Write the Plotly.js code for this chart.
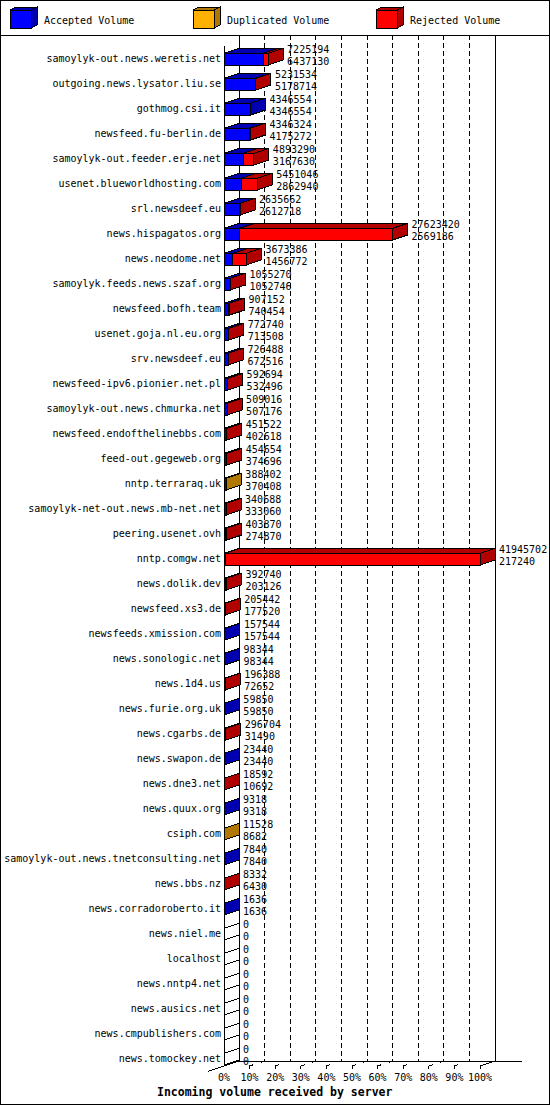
<!DOCTYPE html>
<html><head><meta charset="utf-8">
<script src="https://cdn.plot.ly/plotly-3.0.1.min.js"></script>
<style>
html,body{margin:0;padding:0;background:#fff;}
#chart{width:550px;height:1105px;}
#chart path{shape-rendering:crispEdges;}
</style></head><body><div id="chart"></div>
<script>
// ---------------- data ----------------
const servers = [
  'samoylyk-out.news.weretis.net','outgoing.news.lysator.liu.se','gothmog.csi.it','newsfeed.fu-berlin.de',
  'samoylyk-out.feeder.erje.net','usenet.blueworldhosting.com','srl.newsdeef.eu','news.hispagatos.org',
  'news.neodome.net','samoylyk.feeds.news.szaf.org','newsfeed.bofh.team','usenet.goja.nl.eu.org',
  'srv.newsdeef.eu','newsfeed-ipv6.pionier.net.pl','samoylyk-out.news.chmurka.net','newsfeed.endofthelinebbs.com',
  'feed-out.gegeweb.org','nntp.terraraq.uk','samoylyk-net-out.news.mb-net.net','peering.usenet.ovh',
  'nntp.comgw.net','news.dolik.dev','newsfeed.xs3.de','newsfeeds.xmission.com',
  'news.sonologic.net','news.1d4.us','news.furie.org.uk','news.cgarbs.de',
  'news.swapon.de','news.dne3.net','news.quux.org','csiph.com',
  'samoylyk-out.news.tnetconsulting.net','news.bbs.nz','news.corradoroberto.it','news.niel.me',
  'localhost','news.nntp4.net','news.ausics.net','news.cmpublishers.com','news.tomockey.net'
];
const totalVolume = [
  7225194,5231534,4346554,4346324,4893290,5451046,2635662,27623420,
  3673386,1055270,907152,772740,726488,592694,509016,451522,
  454654,388402,340688,403870,41945702,392740,205442,157544,
  98344,196388,59850,296704,23440,18592,9318,11528,
  7840,8332,1636,0,0,0,0,0,0
];
const acceptedVolume = [
  6437130,5178714,4346554,4175272,3167630,2862940,2612718,2569186,
  1456772,1052746,740454,713508,672516,532496,507176,402618,
  374696,370408,333060,274870,217240,203126,177520,157544,
  98344,72652,59850,31490,23440,10692,9318,8682,
  7840,6430,1636,0,0,0,0,0,0
];
const duplicatedVolume = [
  0,0,0,0,0,0,0,0,
  0,0,0,0,0,0,0,0,
  0,17994,0,0,0,0,0,0,
  0,0,0,0,0,0,0,2846,
  0,0,0,0,0,0,0,0,0
];
const xTickValues = [0,10,20,30,40,50,60,70,80,90,100];
const xTickLabels = ['0%','10%','20%','30%','40%','50%','60%','70%','80%','90%','100%'];
const seriesNames = ['Accepted Volume','Duplicated Volume','Rejected Volume'];
const seriesColors = ['#0000ff','#ffb000','#ff0000'];
const seriesDark   = ['#0000b0','#b07800','#b00000'];
const xAxisTitle = 'Incoming volume received by server';

// ---------------- geometry ----------------
const W = 550, H = 1105;
const PX_PER_PCT = 2.56, X0_PX = 224, ROW0_PX = 59, ROW_PX = 25;
const DX = 15 / PX_PER_PCT;   // depth (x) in axis units
const DY = 5 / ROW_PX;        // depth (y) in axis units
const HT = 0.228, HB = 0.24;  // bar face half heights
const X = px => (px - X0_PX) / PX_PER_PCT;
const Y = py => (py - ROW0_PX) / ROW_PX;
const PX = px => px / W, PY = py => 1 - py / H;
const FONT = 'DejaVu Sans Mono, Liberation Mono, monospace';

const maxTotal = Math.max(...totalVolume);
const pct = v => v / maxTotal * 100;
const rejectedVolume = totalVolume.map((t, i) => t - acceptedVolume[i] - duplicatedVolume[i]);
const segs = [acceptedVolume, duplicatedVolume, rejectedVolume];
const rows = servers.map((_, i) => i);

const traces = [];
// front faces (stacked bars)
segs.forEach((arr, s) => {
  traces.push({
    type: 'bar', orientation: 'h', name: seriesNames[s],
    x: arr.map(pct), y: rows.map(i => i + (HB - HT) / 2), width: HT + HB,
    marker: {color: seriesColors[s], line: {color: '#000', width: 1}},
    showlegend: false, hoverinfo: 'skip'
  });
});
// top faces
segs.forEach((arr, s) => {
  const xs = [], ys = [];
  rows.forEach(i => {
    if (arr[i] <= 0) return;
    let cum = 0; for (let k = 0; k < s; k++) cum += segs[k][i];
    const a = pct(cum), b = pct(cum + arr[i]), t = i - HT;
    xs.push(a, b, b + DX, a + DX, a, null);
    ys.push(t, t, t - DY, t - DY, t, null);
  });
  traces.push({type: 'scatter', mode: 'lines', x: xs, y: ys, fill: 'toself',
    fillcolor: seriesDark[s], line: {color: '#000', width: 1}, showlegend: false, hoverinfo: 'skip'});
});
// side faces grouped by colour of the last non-zero segment
const sideGroups = {};
rows.forEach(i => {
  let last = -1;
  segs.forEach((arr, s) => { if (arr[i] > 0) last = s; });
  const e = pct(totalVolume[i]), t = i - HT, b = i + HB;
  (sideGroups[last] = sideGroups[last] || {x: [], y: []});
  sideGroups[last].x.push(e, e + DX, e + DX, e, e, null);
  sideGroups[last].y.push(t, t - DY, b - DY, b, t, null);
});
Object.keys(sideGroups).forEach(k => {
  traces.push({type: 'scatter', mode: 'lines', x: sideGroups[k].x, y: sideGroups[k].y, fill: 'toself',
    fillcolor: k == -1 ? '#ffffff' : seriesDark[k], line: {color: '#000', width: 1},
    showlegend: false, hoverinfo: 'skip'});
});
// value labels
const labelX = rows.map(i => pct(totalVolume[i]) + DX + 4 / PX_PER_PCT);
traces.push({type: 'scatter', mode: 'text', x: labelX, y: rows.map(i => i - 0.34),
  text: totalVolume.map(String), textposition: 'middle right',
  textfont: {family: FONT, size: 10, color: '#000'}, showlegend: false, hoverinfo: 'skip'});
traces.push({type: 'scatter', mode: 'text', x: labelX, y: rows.map(i => i + 0.12),
  text: acceptedVolume.map(String), textposition: 'middle right',
  textfont: {family: FONT, size: 10, color: '#000'}, showlegend: false, hoverinfo: 'skip'});
// category labels
traces.push({type: 'scatter', mode: 'text', x: rows.map(() => X(221)), y: rows,
  text: servers, textposition: 'middle left',
  textfont: {family: FONT, size: 10, color: '#000'}, showlegend: false, hoverinfo: 'skip'});
// x tick labels
traces.push({type: 'scatter', mode: 'text', x: xTickValues, y: xTickValues.map(() => Y(1078)),
  text: xTickLabels, textposition: 'middle center',
  textfont: {family: FONT, size: 10, color: '#000'}, showlegend: false, hoverinfo: 'skip'});

// ---------------- walls, grid, floor ----------------
const floorFront = Y(1066), floorBack = floorFront - DY, wallTop = Y(35);
const shapes = [];
const ln = (x0, y0, x1, y1, dash) => ({type: 'line', xref: 'x', yref: 'y', x0, y0, x1, y1,
  line: {color: '#000', width: 1, dash: dash || 'solid'}, layer: 'below'});
xTickValues.forEach(v => {
  if (v > 0 && v < 100) shapes.push(ln(v + DX, wallTop, v + DX, floorBack, '5px,3px'));
});
shapes.push(ln(DX, wallTop, DX, floorBack));
shapes.push(ln(0, Y(46), 0, floorFront));
shapes.push(ln(100 + DX, wallTop, 100 + DX, floorBack));
shapes.push(ln(DX, floorBack, X(522), floorBack));
shapes.push(ln(-DX * 1.07, floorFront + DY * 1.07, DX, floorBack));
xTickValues.forEach(v => {
  if (v === 0) return;
  shapes.push(ln(v, floorFront, v + DX, floorBack, v === 100 ? 'solid' : '4px,8px'));
  shapes.push(ln(v, floorFront, v, floorFront + 3 / ROW_PX));
});

// ---------------- legend & frame (paper coords) ----------------
const pl = (x0, y0, x1, y1) => ({type: 'line', xref: 'paper', yref: 'paper',
  x0: PX(x0), y0: PY(y0), x1: PX(x1), y1: PY(y1), line: {color: '#000', width: 1}});
shapes.push(pl(0, 35, 550, 35));
shapes.push({type: 'rect', xref: 'paper', yref: 'paper', x0: PX(0.5), y0: PY(0.5), x1: PX(549.5), y1: PY(1104.5),
  line: {color: '#000', width: 1}, fillcolor: 'rgba(0,0,0,0)'});
const annotations = [];
const legendX = [10, 193, 376], legendTextX = [44, 227, 410];
seriesNames.forEach((nm, s) => {
  const x0 = legendX[s], x1 = x0 + 21, y0 = 10, y1 = 28, d = 6, e = 3;
  const poly = pts => 'M' + pts.map(p => PX(p[0]) + ',' + PY(p[1])).join('L') + 'Z';
  shapes.push({type: 'path', xref: 'paper', yref: 'paper', path: poly([[x0,y0],[x1,y0],[x1+d,y0-e],[x0+d,y0-e]]),
    fillcolor: seriesDark[s], line: {color: '#000', width: 1}});
  shapes.push({type: 'path', xref: 'paper', yref: 'paper', path: poly([[x1,y0],[x1+d,y0-e],[x1+d,y1-e],[x1,y1]]),
    fillcolor: seriesDark[s], line: {color: '#000', width: 1}});
  shapes.push({type: 'path', xref: 'paper', yref: 'paper', path: poly([[x0,y0],[x1,y0],[x1,y1],[x0,y1]]),
    fillcolor: seriesColors[s], line: {color: '#000', width: 1}});
  annotations.push({xref: 'paper', yref: 'paper', x: PX(legendTextX[s]), y: PY(20), xanchor: 'left', yanchor: 'middle',
    text: nm, showarrow: false, borderpad: 0, borderwidth: 0, font: {family: FONT, size: 10, color: '#000'}});
});
annotations.push({xref: 'paper', yref: 'paper', x: PX(274), y: PY(1092), xanchor: 'center', yanchor: 'middle',
  text: '<b>' + xAxisTitle + '</b>', showarrow: false, borderpad: 0, borderwidth: 0,
  font: {family: FONT, size: 11.5, color: '#000'}});

const layout = {
  width: W, height: H, margin: {l: 0, r: 0, t: 0, b: 0},
  paper_bgcolor: '#fff', plot_bgcolor: '#fff', barmode: 'stack', bargap: 0,
  showlegend: false, hovermode: false,
  font: {family: FONT, size: 10, color: '#000'},
  xaxis: {range: [X(0), X(W)], visible: false, fixedrange: true},
  yaxis: {range: [Y(H), Y(0)], visible: false, fixedrange: true},
  shapes, annotations
};
Plotly.newPlot('chart', traces, layout, {staticPlot: true, displayModeBar: false});
</script></body></html>
